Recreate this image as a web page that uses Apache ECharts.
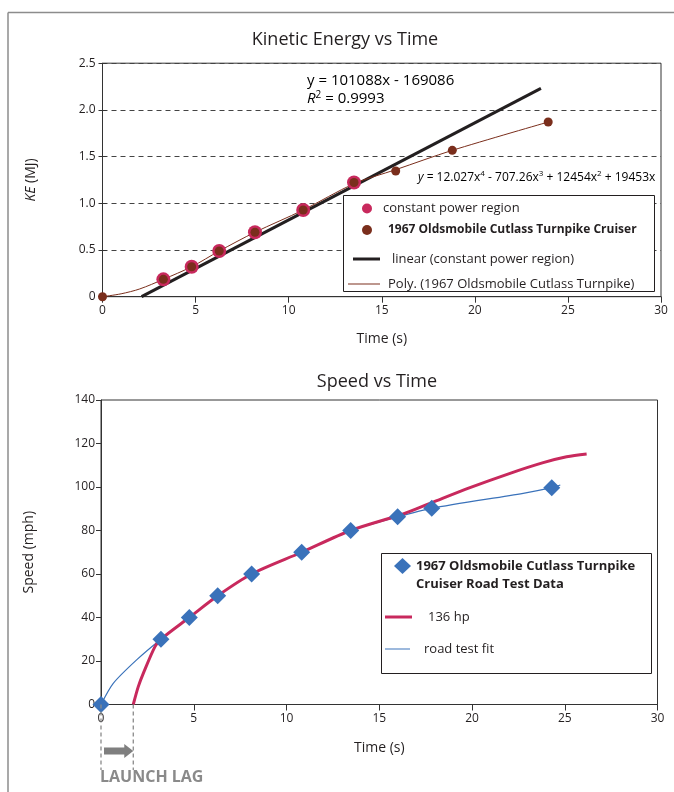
<!DOCTYPE html>
<html>
<head>
<meta charset="utf-8">
<script src="https://cdn.jsdelivr.net/npm/echarts@6/dist/echarts.min.js"></script>
<style>html,body{margin:0;padding:0;background:#fff}#c{width:674px;height:792px}</style>
</head>
<body>
<div id="c"></div>
<script>
// ---- Kinetic Energy vs Time ----
const keTime  = [0, 3.27, 4.79, 6.27, 8.19, 10.78, 13.51, 15.75, 18.79, 23.94];
const keValue = [0, 0.186, 0.321, 0.489, 0.69, 0.928, 1.223, 1.346, 1.567, 1.870];
const cpTime  = [3.27, 4.79, 6.27, 8.19, 10.78, 13.51];
const cpValue = [0.186, 0.321, 0.489, 0.69, 0.928, 1.223];
const linTime  = [2.1, 23.55];
const linValue = [0, 2.231];
const polyTime  = [0, 1, 2, 3.27, 4.79, 6.27, 8.19, 10.78, 13.51, 15.75, 18.79, 23.94];
const polyValue = [0, 0.031, 0.083, 0.186, 0.321, 0.489, 0.69, 0.928, 1.21, 1.36, 1.567, 1.870];
const keXTicks = [0, 5, 10, 15, 20, 25, 30];
const keYTicks = [0, 0.5, 1.0, 1.5, 2.0, 2.5];

// ---- Speed vs Time ----
const rtTime  = [0, 3.23, 4.76, 6.29, 8.12, 10.82, 13.46, 15.99, 17.83, 24.30];
const rtSpeed = [0, 30, 40, 50, 60, 70, 80, 86.3, 90.2, 99.7];
const hpTime  = [1.74, 2.01, 2.28, 2.91, 3.23, 4.76, 6.29, 8.12, 10.82, 13.46, 16.29, 17.83, 19.89, 22.05, 23.84, 25.1, 26.18];
const hpSpeed = [0, 8.2, 14.3, 26.6, 30, 40, 50, 60, 70, 80, 87.6, 92.8, 99.7, 106.3, 111.2, 113.9, 115.2];
const fitTime  = [0, 0.66, 1.92, 3.23, 4.76, 6.29, 8.12, 10.82, 13.46, 15.99, 17.83, 22.76, 24.3, 24.76];
const fitSpeed = [0, 9.7, 20.5, 30, 40, 50, 60, 70, 80, 86.3, 90.2, 97.1, 99.7, 100.9];
const spYTicks = [0, 20, 40, 60, 80, 100, 120, 140];
const launchLag = [0, 1.74];

const FONT = 'Open Sans';
const TXT = '#231f20';
const PINK = '#c8295d';
const BROWN = '#7a2e1c';
const BLUE = '#3a72ba';
const GREY = '#8a8a8a';

const pairs = (xs, ys) => xs.map((x, i) => [x, ys[i]]);

const chart = echarts.init(document.getElementById('c'), null, {renderer: 'canvas'});

const labelStyle = {color: TXT, fontFamily: FONT, fontSize: 12};
const nameStyle = {color: TXT, fontFamily: FONT, fontSize: 14};

function legendItem(name, left, top, w, h, icon, extra) {
  return Object.assign({
    data: [{name: name, icon: icon}],
    left: left, top: top, itemWidth: w, itemHeight: h, padding: 0,
    orient: 'vertical', selectedMode: false,
    itemStyle: {borderWidth: 0, opacity: 1},
    textStyle: {color: TXT, fontFamily: FONT, fontSize: 13}
  }, extra || {});
}

const option = {
  animation: false,
  backgroundColor: '#fff',
  textStyle: {fontFamily: FONT},
  title: [
    {text: 'Kinetic Energy vs Time', left: 345, top: 31, textAlign: 'center', padding: 0,
     textStyle: {fontFamily: FONT, fontSize: 18, fontWeight: 'normal', color: TXT}},
    {text: 'Speed vs Time', left: 377, top: 373, textAlign: 'center', padding: 0,
     textStyle: {fontFamily: FONT, fontSize: 18, fontWeight: 'normal', color: TXT}}
  ],
  grid: [
    {left: 102.5, top: 63.2, width: 558.5, height: 233.5, show: true, borderColor: '#333', borderWidth: 1, backgroundColor: 'transparent'},
    {left: 101, top: 400, width: 556.5, height: 304.5, show: true, borderColor: '#333', borderWidth: 1, backgroundColor: 'transparent'}
  ],
  xAxis: [
    {gridIndex: 0, type: 'value', min: keXTicks[0], max: keXTicks[keXTicks.length - 1], interval: 5,
     axisLine: {lineStyle: {color: '#333'}}, axisTick: {length: 6, lineStyle: {color: '#333'}},
     axisLabel: Object.assign({margin: 8}, labelStyle), splitLine: {show: false},
     name: 'Time (s)', nameLocation: 'middle', nameGap: 35, nameTextStyle: nameStyle},
    {gridIndex: 1, type: 'value', min: 0, max: 30, interval: 5,
     axisLine: {lineStyle: {color: '#333'}}, axisTick: {length: 6, lineStyle: {color: '#333'}},
     axisLabel: Object.assign({margin: 8}, labelStyle), splitLine: {show: false},
     name: 'Time (s)', nameLocation: 'middle', nameGap: 37, nameTextStyle: nameStyle}
  ],
  yAxis: [
    {gridIndex: 0, type: 'value', min: keYTicks[0], max: keYTicks[keYTicks.length - 1], interval: 0.5,
     axisLine: {show: true, lineStyle: {color: '#333'}}, axisTick: {show: true, length: 4, lineStyle: {color: '#333'}},
     axisLabel: Object.assign({margin: 7, formatter: v => v === 0 ? '0' : v.toFixed(1)}, labelStyle),
     splitLine: {show: true, lineStyle: {type: [5, 4], color: '#444', width: 1}},
     name: '{i|KE} (MJ)', nameLocation: 'middle', nameGap: 64,
     nameTextStyle: Object.assign({rich: {i: {fontStyle: 'italic', fontFamily: FONT, fontSize: 14, color: TXT}}}, nameStyle)},
    {gridIndex: 0, type: 'value', min: 0, max: 2.5, interval: 0.5, position: 'left',
     axisLine: {show: false}, axisTick: {show: true, inside: true, length: 4, lineStyle: {color: '#333'}},
     axisLabel: {show: false}, splitLine: {show: false}},
    {gridIndex: 1, type: 'value', min: spYTicks[0], max: spYTicks[spYTicks.length - 1], interval: 20,
     axisLine: {show: true, lineStyle: {color: '#333'}}, axisTick: {show: true, length: 5, lineStyle: {color: '#333'}},
     axisLabel: Object.assign({margin: 6}, labelStyle), splitLine: {show: false},
     name: 'Speed (mph)', nameLocation: 'middle', nameGap: 65, nameTextStyle: nameStyle}
  ],
  legend: [
    legendItem('constant power region', 362, 202, 10, 10, 'circle', {textStyle: {color: TXT, fontFamily: FONT, fontSize: 13, padding: [0,0,0,6]}}),
    legendItem('1967 Oldsmobile Cutlass Turnpike Cruiser', 362, 224, 10, 10, 'circle',
      {textStyle: {color: TXT, fontFamily: FONT, fontSize: 12, fontWeight: 'bold', padding: [0,0,0,11]}}),
    legendItem('linear (constant power region)', 353, 252.5, 27, 3, 'rect',
      {textStyle: {color: TXT, fontFamily: FONT, fontSize: 13, padding: [0,0,0,7]}}),
    legendItem('Poly. (1967 Oldsmobile Cutlass Turnpike)', 348, 277.5, 32, 1, 'rect',
      {textStyle: {color: TXT, fontFamily: FONT, fontSize: 13, padding: [0,0,0,3]}}),
    legendItem('1967 Oldsmobile Cutlass Turnpike Cruiser Road Test Data', 394, 539, 17, 16, 'diamond',
      {formatter: () => ' \n1967 Oldsmobile Cutlass Turnpike\nCruiser Road Test Data',
       textStyle: {color: TXT, fontFamily: FONT, fontSize: 13, fontWeight: 'bold', lineHeight: 18}}),
    legendItem('136 hp', 385, 610.5, 27, 3, 'rect',
      {textStyle: {color: TXT, fontFamily: FONT, fontSize: 13, padding: [0,0,0,11]}}),
    legendItem('road test fit', 385, 642.5, 25, 1, 'rect',
      {textStyle: {color: TXT, fontFamily: FONT, fontSize: 13, padding: [0,0,0,9]}})
  ],
  series: [
    {name: 'linear (constant power region)', type: 'line', xAxisIndex: 0, yAxisIndex: 0, z: 2,
     data: pairs(linTime, linValue), symbol: 'none', color: '#231f20',
     lineStyle: {color: '#231f20', width: 3}},
    {name: 'Poly. (1967 Oldsmobile Cutlass Turnpike)', type: 'line', xAxisIndex: 0, yAxisIndex: 0, z: 2,
     data: pairs(polyTime, polyValue), symbol: 'none', smooth: 0.3, color: BROWN,
     lineStyle: {color: BROWN, width: 1}},
    {name: 'constant power region', type: 'scatter', xAxisIndex: 0, yAxisIndex: 0, z: 3,
     data: pairs(cpTime, cpValue), symbol: 'circle', symbolSize: 14, itemStyle: {color: PINK, opacity: 1}},
    {name: '1967 Oldsmobile Cutlass Turnpike Cruiser', type: 'scatter', xAxisIndex: 0, yAxisIndex: 0, z: 3,
     data: pairs(keTime, keValue), symbol: 'circle', symbolSize: 9, itemStyle: {color: BROWN, opacity: 1}},

    {name: 'road test fit', type: 'line', xAxisIndex: 1, yAxisIndex: 2, z: 2,
     data: pairs(fitTime, fitSpeed), symbol: 'none', smooth: 0.25, color: BLUE,
     lineStyle: {color: BLUE, width: 1.2}},
    {name: '136 hp', type: 'line', xAxisIndex: 1, yAxisIndex: 2, z: 2,
     data: pairs(hpTime, hpSpeed), symbol: 'none', smooth: 0.3, color: PINK,
     lineStyle: {color: PINK, width: 3}},
    {name: '1967 Oldsmobile Cutlass Turnpike Cruiser Road Test Data', type: 'scatter', xAxisIndex: 1, yAxisIndex: 2, z: 3,
     data: pairs(rtTime, rtSpeed), symbol: 'diamond', symbolSize: [17, 17], itemStyle: {color: BLUE, opacity: 1}}
  ]
};
chart.setOption(option);

// annotations and frame
const pA = chart.convertToPixel({xAxisIndex: 1, yAxisIndex: 2}, [launchLag[0], 0]);
const pB = chart.convertToPixel({xAxisIndex: 1, yAxisIndex: 2}, [launchLag[1], 0]);
const yBottom = 770;
const supRich = {
  n: {fontFamily: FONT, fontSize: 15, color: TXT, lineHeight: 17},
  i: {fontFamily: FONT, fontSize: 15, color: TXT, fontStyle: 'italic', lineHeight: 17},
  s: {fontFamily: FONT, fontSize: 10, color: TXT, verticalAlign: 'top', lineHeight: 17},
  sn: {fontFamily: FONT, fontSize: 12, color: TXT, lineHeight: 15},
  si: {fontFamily: FONT, fontSize: 12, color: TXT, fontStyle: 'italic', lineHeight: 15},
  ss: {fontFamily: FONT, fontSize: 8, color: TXT, verticalAlign: 'top', lineHeight: 15}
};
chart.setOption({
  graphic: [
    {type: 'line', z: 10, shape: {x1: 8, y1: 12.5, x2: 674, y2: 12.5}, style: {stroke: '#8c8c8c', lineWidth: 1.5}},
    {type: 'line', z: 10, shape: {x1: 8, y1: 12.5, x2: 8, y2: 792}, style: {stroke: '#8c8c8c', lineWidth: 1.5}},
    // legend boxes
    {type: 'rect', z: 3, shape: {x: 343.5, y: 195.5, width: 311, height: 96}, style: {fill: '#fff', stroke: '#231f20', lineWidth: 1}},
    {type: 'rect', z: 3, shape: {x: 381.5, y: 553.5, width: 270, height: 120}, style: {fill: '#fff', stroke: '#231f20', lineWidth: 1}},
    // equations
    {type: 'text', z: 5, x: 307, y: 72, style: {text: '{n|y = 101088x - 169086}', rich: supRich}},
    {type: 'text', z: 5, x: 307, y: 90, style: {text: '{i|R}{s|2}{n| = 0.9993}', rich: supRich}},
    {type: 'text', z: 5, x: 418, y: 170, style: {text: '{si|y}{sn| = 12.027x}{ss|4}{sn| - 707.26x}{ss|3}{sn| + 12454x}{ss|2}{sn| + 19453x}', rich: supRich}},
    // launch lag
    {type: 'line', z: 5, shape: {x1: pA[0], y1: pA[1], x2: pA[0], y2: yBottom}, style: {stroke: GREY, lineWidth: 1.3, lineDash: [4, 3]}},
    {type: 'line', z: 5, shape: {x1: pB[0], y1: pB[1], x2: pB[0], y2: yBottom}, style: {stroke: GREY, lineWidth: 1.3, lineDash: [4, 3]}},
    {type: 'polygon', z: 5, shape: {points: [[pA[0] + 3, 747.5], [pB[0] - 9, 747.5], [pB[0] - 9, 744], [pB[0], 751], [pB[0] - 9, 758], [pB[0] - 9, 754.5], [pA[0] + 3, 754.5]]}, style: {fill: '#7f7f7f'}},
    {type: 'text', z: 5, x: pA[0] - 1, y: 777, style: {text: 'LAUNCH LAG', fontFamily: FONT, fontSize: 16, fontWeight: 'bold', fill: GREY, verticalAlign: 'middle'}}
  ]
});
</script>
</body>
</html>
